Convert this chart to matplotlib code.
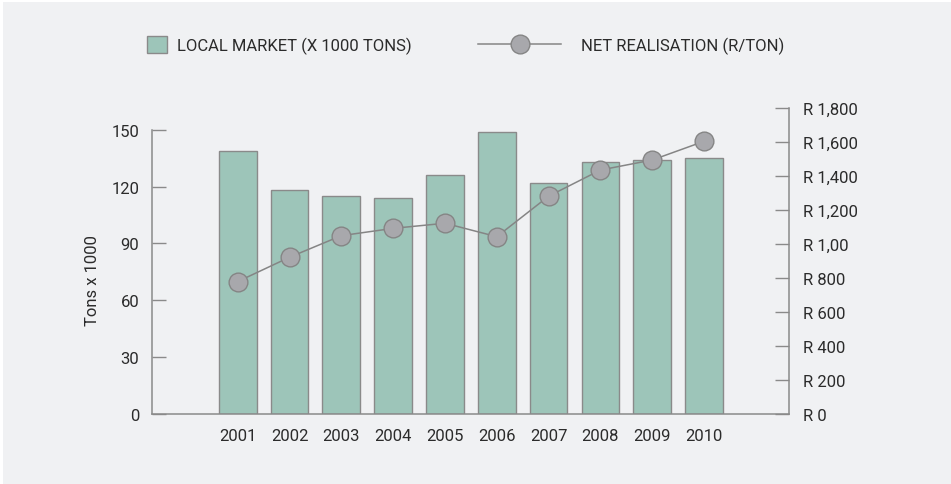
import numpy as np
import matplotlib
matplotlib.use("Agg")
import matplotlib.pyplot as plt
from matplotlib.patches import Rectangle

# data
years = ["2001", "2002", "2003", "2004", "2005", "2006", "2007", "2008", "2009", "2010"]
local_market = [139, 118, 115, 114, 126, 149, 122, 133, 134, 135]
net_realisation = [779, 922, 1049, 1092, 1122, 1043, 1281, 1435, 1494, 1604]

left_ticks = [0, 30, 60, 90, 120, 150]
right_ticks = [0, 200, 400, 600, 800, 1000, 1200, 1400, 1600, 1800]
right_labels = ["R 0", "R 200", "R 400", "R 600", "R 800", "R 1,00",
                "R 1,200", "R 1,400", "R 1,600", "R 1,800"]

BG = "#f0f1f3"
BAR = "#9dc5b9"
EDGE = "#8a8a8a"
MARK = "#a8a8ac"
TXT = "#2b2b2b"
FS = 12

plt.rcParams['font.family'] = ['Roboto', 'DejaVu Sans']

fig = plt.figure(figsize=(9.51, 4.85), dpi=100, facecolor="white")
fig.patches.append(Rectangle((3 / 951, 0), 1, 1 - 3 / 485, transform=fig.transFigure,
                             facecolor=BG, edgecolor="none", zorder=-10))

ax = fig.add_axes([0.1595, 0.1443, 0.6702, 0.6310])
ax.set_facecolor("none")
x = np.arange(len(years))
bars = ax.bar(x, local_market, width=0.728, color=BAR, edgecolor=EDGE, linewidth=1.0,
              label="LOCAL MARKET (X 1000 TONS)")
ax.set_xlim(-1.66, 10.64)
ax.set_ylim(0, 161.45)
ax.set_yticks(left_ticks)
ax.set_xticks(x)
ax.set_xticklabels(years)
ax.tick_params(axis="x", length=0, pad=10, labelsize=FS, labelcolor=TXT)
ax.tick_params(axis="y", direction="in", length=10, width=1.0, color=EDGE, pad=9,
               labelsize=FS, labelcolor=TXT)
ax.spines["top"].set_visible(False)
ax.spines["right"].set_visible(False)
ax.spines["left"].set_bounds(0, 150)
for s in ("left", "bottom"):
    ax.spines[s].set_color(EDGE)
    ax.spines[s].set_linewidth(1.1)
ax.set_ylabel("Tons x 1000", fontsize=FS, color=TXT)
ax.yaxis.set_label_coords(-0.081, 0.441)

ax2 = ax.twinx()
line, = ax2.plot(x, net_realisation, color="#858585", linewidth=1.1, marker="o",
                 markersize=13.5, markerfacecolor=MARK, markeredgecolor="#858585",
                 markeredgewidth=1.0, label="NET REALISATION (R/TON)")
ax2.set_ylim(0, 1800)
ax2.set_yticks(right_ticks)
ax2.set_yticklabels(right_labels)
ax2.tick_params(axis="y", direction="in", length=10, width=1.0, color=EDGE, pad=10,
                labelsize=FS, labelcolor=TXT)
for s in ("top", "left", "bottom"):
    ax2.spines[s].set_visible(False)
ax2.spines["right"].set_bounds(0, 1800)
ax2.spines["right"].set_color(EDGE)
ax2.spines["right"].set_linewidth(1.1)

# legend, two pieces so each key gets its own length
leg1 = fig.legend(handles=[bars], loc="center left", bbox_to_anchor=(146.5 / 951, 0.905),
                  frameon=False, fontsize=FS, borderpad=0, borderaxespad=0,
                  handlelength=1.25, handleheight=1.15, handletextpad=0.6, labelcolor=TXT)
leg2 = fig.legend(handles=[line], loc="center left", bbox_to_anchor=(478 / 951, 0.905),
                  frameon=False, fontsize=FS, borderpad=0, borderaxespad=0,
                  handlelength=5.0, handletextpad=1.2, labelcolor=TXT)

plt.savefig("out.png", dpi=100, facecolor=fig.get_facecolor())
